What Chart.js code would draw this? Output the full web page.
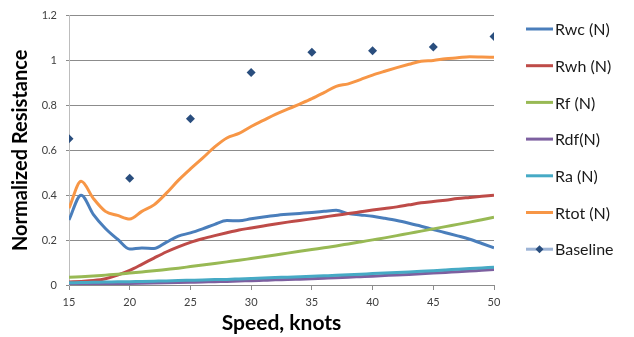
<!DOCTYPE html>
<html>
<head>
<meta charset="utf-8">
<script src="https://cdn.jsdelivr.net/npm/chart.js@4/dist/chart.umd.min.js"></script>
<style>
  html, body { margin: 0; padding: 0; background: #fff; }
  #wrap { width: 634px; height: 337px; position: relative; }
</style>
</head>
<body>
<div id="wrap"><canvas id="c" width="634" height="337"></canvas></div>
<script>
// Speed in knots (one sample per knot)
const speeds = [15,16,17,18,19,20,21,22,23,24,25,26,27,28,29,30,31,32,33,34,35,36,37,38,39,40,41,42,43,44,45,46,47,48,49,50];

// Normalized resistance components
const rwc  = [0.290,0.400,0.315,0.252,0.204,0.160,0.165,0.163,0.190,0.218,0.232,0.250,0.270,0.287,0.286,0.295,0.303,0.310,0.315,0.319,0.323,0.328,0.333,0.318,0.312,0.306,0.297,0.287,0.275,0.262,0.247,0.233,0.219,0.204,0.185,0.165];
const rwh  = [0.013,0.016,0.020,0.028,0.044,0.065,0.092,0.120,0.147,0.170,0.190,0.206,0.220,0.233,0.245,0.254,0.263,0.272,0.280,0.287,0.295,0.303,0.311,0.318,0.326,0.334,0.341,0.348,0.357,0.366,0.372,0.378,0.385,0.390,0.395,0.400];
const rf   = [0.034,0.037,0.040,0.044,0.048,0.053,0.058,0.063,0.069,0.075,0.082,0.089,0.096,0.103,0.110,0.118,0.126,0.134,0.142,0.150,0.158,0.166,0.174,0.183,0.192,0.201,0.210,0.220,0.230,0.240,0.250,0.260,0.270,0.280,0.291,0.302];
const rdf  = [0.003,0.004,0.004,0.005,0.006,0.007,0.008,0.009,0.010,0.011,0.012,0.013,0.015,0.016,0.018,0.019,0.021,0.023,0.024,0.026,0.028,0.030,0.032,0.035,0.037,0.039,0.042,0.045,0.047,0.050,0.053,0.056,0.059,0.062,0.066,0.069];
const ra   = [0.010,0.011,0.012,0.013,0.014,0.015,0.016,0.017,0.018,0.020,0.021,0.022,0.024,0.025,0.027,0.029,0.031,0.033,0.035,0.037,0.039,0.041,0.043,0.046,0.048,0.051,0.053,0.056,0.058,0.061,0.064,0.067,0.070,0.073,0.076,0.079];
const rtot = [0.342,0.462,0.386,0.328,0.310,0.294,0.328,0.357,0.408,0.466,0.517,0.565,0.615,0.655,0.675,0.706,0.733,0.760,0.783,0.806,0.830,0.857,0.885,0.896,0.915,0.935,0.952,0.968,0.983,0.997,1.000,1.008,1.012,1.017,1.016,1.014];

// Baseline measurements (every 5 knots)
const baselineSpeeds = [15,20,25,30,35,40,45,50];
const baseline       = [0.652,0.476,0.740,0.947,1.037,1.043,1.060,1.107];

const seriesNames = ['Rwc (N)','Rwh (N)','Rf (N)','Rdf(N)','Ra (N)','Rtot (N)','Baseline'];
const seriesColors = ['#4A7EBB','#BE4B48','#98B954','#7D60A0','#46AAC5','#F79646'];

const toPoints = (xs, ys) => xs.map((x, i) => ({ x: x, y: ys[i] }));
const curveSeries = [rwc, rwh, rf, rdf, ra, rtot];

const datasets = curveSeries.map((vals, i) => ({
  label: seriesNames[i],
  data: toPoints(speeds, vals),
  borderColor: seriesColors[i],
  backgroundColor: seriesColors[i],
  borderWidth: 3,
  pointRadius: 0,
  cubicInterpolationMode: 'monotone',
  order: 10 - i
}));
datasets.push({
  label: seriesNames[6],
  data: toPoints(baselineSpeeds, baseline),
  showLine: false,
  borderColor: '#9DB4D6',
  pointStyle: 'rectRot',
  pointRadius: 4.5,
  pointBackgroundColor: '#2A4E7E',
  pointBorderColor: '#2A4E7E',
  pointBorderWidth: 0,
  order: 1
});

// Legend drawn at the right: line sample + name for each series
const sideLegend = {
  id: 'sideLegend',
  afterDraw(chart) {
    const ctx = chart.ctx;
    ctx.save();
    const x0 = 526, x1 = 553, top = 29, step = 36.7;
    chart.data.datasets.forEach((ds, i) => {
      const y = top + i * step;
      ctx.strokeStyle = ds.borderColor;
      ctx.lineWidth = 3;
      ctx.beginPath();
      ctx.moveTo(x0, y);
      ctx.lineTo(x1, y);
      ctx.stroke();
      if (ds.pointStyle === 'rectRot') {
        const cx = (x0 + x1) / 2, r = 4;
        ctx.fillStyle = ds.pointBackgroundColor;
        ctx.beginPath();
        ctx.moveTo(cx, y - r);
        ctx.lineTo(cx + r, y);
        ctx.lineTo(cx, y + r);
        ctx.lineTo(cx - r, y);
        ctx.closePath();
        ctx.fill();
      }
      ctx.fillStyle = '#1a1a1a';
      ctx.font = '16px Lato';
      ctx.textBaseline = 'middle';
      ctx.textAlign = 'left';
      ctx.fillText(ds.label, 555, y + 1);
    });
    ctx.restore();
  }
};

new Chart(document.getElementById('c'), {
  type: 'line',
  data: { datasets: datasets },
  plugins: [sideLegend],
  options: {
    responsive: false,
    animation: false,
    layout: { padding: { left: 0, right: 140, top: 10, bottom: 0 } },
    plugins: {
      legend: { display: false },
      tooltip: { enabled: false }
    },
    scales: {
      x: {
        type: 'linear',
        min: 15,
        max: 50,
        afterFit(scale) { scale.height = 52; },
        ticks: {
          stepSize: 5,
          color: '#404040',
          font: { family: 'Lato', size: 11 },
          padding: 6
        },
        grid: {
          drawOnChartArea: false,
          color: '#8C8C8C',
          tickLength: 5
        },
        border: { color: '#8C8C8C', width: 1 },
        title: {
          display: true,
          text: 'Speed, knots',
          color: '#000',
          font: { family: 'Lato', size: 21, weight: 'bold' },
          padding: { top: 0, bottom: 1 }
        }
      },
      y: {
        min: 0,
        max: 1.2,
        afterFit(scale) { scale.width = 69; },
        ticks: {
          stepSize: 0.2,
          color: '#404040',
          font: { family: 'Lato', size: 11 },
          padding: 9,
          callback: (v) => String(Math.round(v * 10) / 10)
        },
        grid: {
          color: '#8C8C8C',
          tickLength: 3
        },
        border: { color: '#BDBDBD', width: 1 },
        title: {
          display: true,
          text: 'Normalized Resistance',
          color: '#000',
          font: { family: 'Lato', size: 20, weight: 'bold' },
          padding: { top: 9, bottom: 0 }
        }
      }
    }
  }
});
</script>
</body>
</html>
